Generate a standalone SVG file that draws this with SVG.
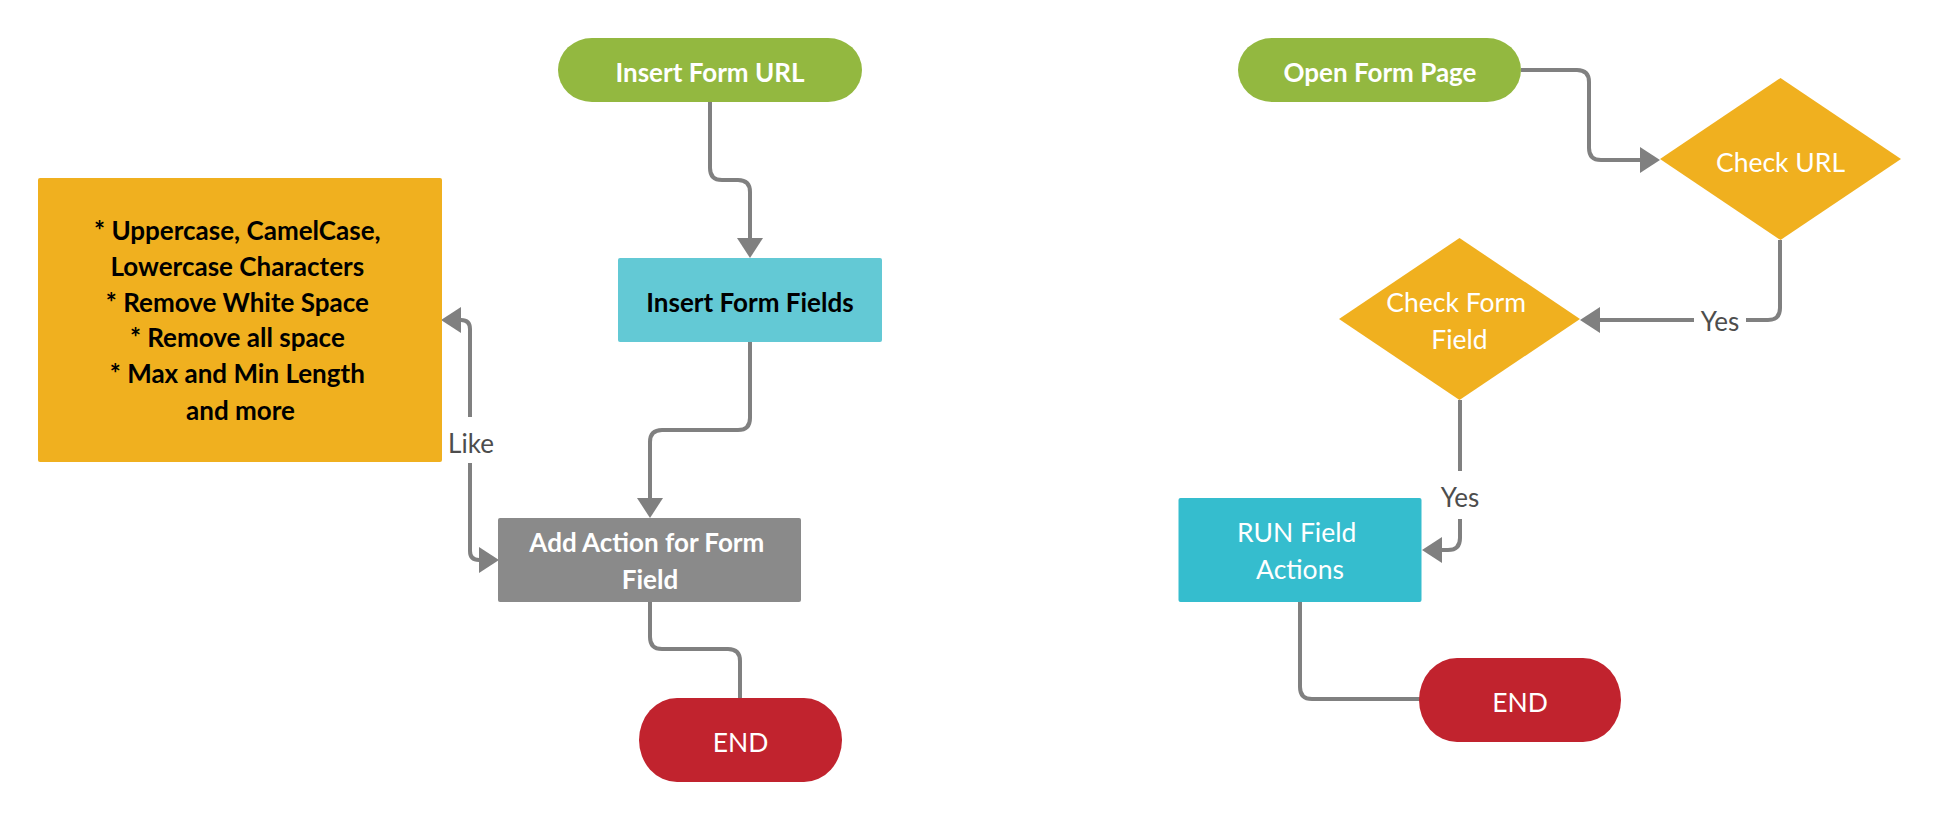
<svg xmlns="http://www.w3.org/2000/svg" width="1940" height="820" viewBox="0 0 1940 820">
<style>
.t{font-family:Lato,"Liberation Sans",sans-serif;text-anchor:middle;font-size:26.5px}
.b{font-weight:700;font-size:26px}
.w{fill:#ffffff}
.k{fill:#000000}
.lbl{font-family:Lato,"Liberation Sans",sans-serif;text-anchor:middle;font-size:26px;fill:#4d4d4d}
.c{fill:none;stroke:#808080;stroke-width:4}
.a{marker-end:url(#ah)}
</style>
<defs>
<marker id="ah" markerUnits="userSpaceOnUse" markerWidth="20" markerHeight="26" viewBox="0 0 20 26" refX="0" refY="13" orient="auto" overflow="visible">
<path d="M0 0 L20 13 L0 26 Z" fill="#808080"/>
</marker>
<marker id="ahs" markerUnits="userSpaceOnUse" markerWidth="20" markerHeight="26" viewBox="0 0 20 26" refX="0" refY="13" orient="auto-start-reverse" overflow="visible">
<path d="M0 0 L20 13 L0 26 Z" fill="#808080"/>
</marker>
</defs>
<rect width="1940" height="820" fill="#ffffff"/>

<g id="connectors">
<path class="c a" d="M710 102 V168 Q710 180 722 180 H738 Q750 180 750 192 V238"/>
<path class="c a" d="M750 342 V418 Q750 430 738 430 H662 Q650 430 650 442 V498"/>
<path class="c" d="M650 602 V637 Q650 649 662 649 H728 Q740 649 740 661 V698"/>
<path class="c a" d="M461 320 Q470 320 470 329 V551 Q470 560 479 560" style="marker-start:url(#ahs)"/>
<rect x="448" y="417" width="46" height="46" fill="#ffffff"/>
<text class="lbl" x="471" y="453">Like</text>
<path class="c a" d="M1521 70 H1577 Q1589 70 1589 82 V148 Q1589 160 1601 160 H1640"/>
<path class="c a" d="M1780 240 V308 Q1780 320 1768 320 H1600"/>
<rect x="1694" y="304" width="52" height="34" fill="#ffffff"/>
<text class="lbl" x="1720" y="331">Yes</text>
<path class="c a" d="M1460 400 V538 Q1460 550 1448 550 H1442"/>
<rect x="1436" y="471" width="48" height="48" fill="#ffffff"/>
<text class="lbl" x="1460" y="507">Yes</text>
<path class="c" d="M1300 602 V687 Q1300 699 1312 699 H1420"/>
</g>

<g id="insert-form-url">
<rect x="558" y="38" width="304" height="64" rx="34" ry="32" fill="#93b840"/>
<text class="t b w" x="710" y="81.5">Insert Form URL</text>
</g>
<g id="insert-form-fields">
<rect x="618" y="258" width="264" height="84" rx="2" fill="#63c9d5"/>
<text class="t b k" x="750" y="311.5">Insert Form Fields</text>
</g>
<g id="rules-note">
<rect x="38" y="178" width="404" height="284" rx="2" fill="#f0b01f"/>
<text class="t b k" x="240.5">
<tspan x="240.5" y="240">* Uppercase, CamelCase,</tspan>
<tspan x="240.5" y="275.8">Lowercase Characters</tspan>
<tspan x="240.5" y="311.6">* Remove White Space</tspan>
<tspan x="240.5" y="347.4">* Remove all space</tspan>
<tspan x="240.5" y="383.2">* Max and Min Length</tspan>
<tspan x="240.5" y="419.5">and more</tspan>
</text>
</g>
<g id="add-action">
<rect x="498" y="518" width="303" height="84" rx="2" fill="#8a8a8a"/>
<text class="t b w" x="650">
<tspan x="650" y="551.7">Add Action for Form</tspan>
<tspan x="650" y="589">Field</tspan>
</text>
</g>
<g id="end-left">
<rect x="639" y="698" width="203" height="84" rx="38" ry="42" fill="#c1232e"/>
<text class="t w" x="740.5" y="751.7">END</text>
</g>

<g id="open-form-page">
<rect x="1238" y="38" width="283" height="64" rx="34" ry="32" fill="#93b840"/>
<text class="t b w" x="1380" y="81.5">Open Form Page</text>
</g>
<g id="check-url">
<polygon points="1780.5,78 1901,159 1780.5,240 1660,159" fill="#f0b01f"/>
<text class="t w" x="1780.5" y="172">Check URL</text>
</g>
<g id="check-form-field">
<polygon points="1459.5,238 1580,319 1459.5,400 1339,319" fill="#f0b01f"/>
<text class="t w" x="1459.5">
<tspan x="1459.5" y="311.7">Check Form</tspan>
<tspan x="1459.5" y="349.3">Field</tspan>
</text>
</g>
<g id="run-field-actions">
<rect x="1178.5" y="498" width="243" height="104" rx="2" fill="#35bdce"/>
<text class="t w" x="1300">
<tspan x="1300" y="541.7">RUN Field</tspan>
<tspan x="1300" y="579.3">Actions</tspan>
</text>
</g>
<g id="end-right">
<rect x="1419" y="658" width="202" height="84" rx="38" ry="42" fill="#c1232e"/>
<text class="t w" x="1520" y="711.7">END</text>
</g>
</svg>
